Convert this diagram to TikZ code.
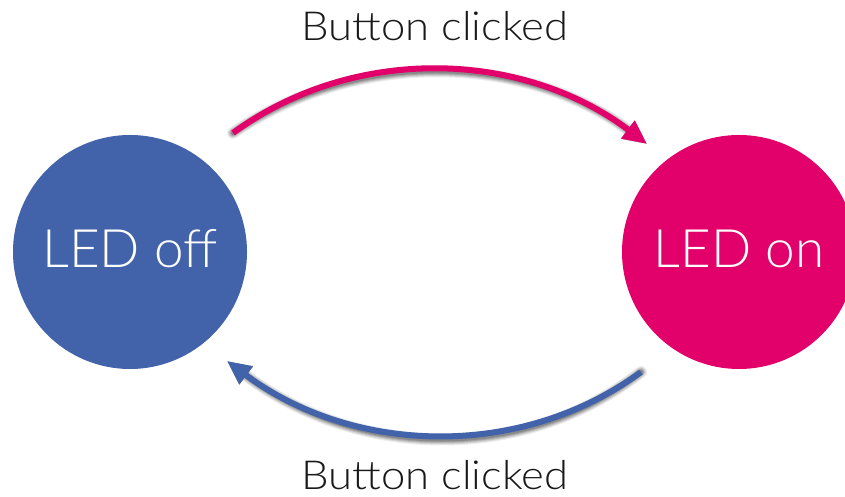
\documentclass[tikz,border=0pt]{standalone}
\usepackage{fontspec}
\setmainfont{Lato Light}
\newfontfamily\capfont{Lato Light}[FakeStretch=1.09]
\usetikzlibrary{arrows.meta,calc}
\definecolor{offblue}{RGB}{66,98,170}
\definecolor{onpink}{RGB}{226,0,107}
\tikzset{
  x=1pt, y=1pt,
  state/.style={circle, minimum size=234pt, inner sep=0pt, text=white,
    font=\fontsize{53}{53}\selectfont, text height=38pt, text depth=6pt},
  caption/.style={anchor=base, font=\capfont\fontsize{40}{40}\selectfont, text=black!90},
  trans/.style={line width=6pt, -{Triangle[length=24pt,width=21pt]}},
  transshadow/.style={line width=#1, black,
    -{Triangle[length=24pt,width=21pt]}, line cap=round},
}
\begin{document}
\begin{tikzpicture}
\clip (0,0) rectangle (845,497);
\fill[white] (0,0) rectangle (845,497);

% the two states
\node[state, fill=offblue] (off) at (130,245) {LED off};
\node[state, fill=onpink] (on) at (739,245) {LED on};

% free ends of the transitions, just outside the circles
\coordinate (t0) at ($(off)+(103,119)$);
\coordinate (t1) at ($(on)+(-92,108)$);
\coordinate (b0) at ($(on)+(-98,-120)$);
\coordinate (b1) at ($(off)+(97,-109)$);

% soft drop shadows under the transitions
\foreach \w/\o in {12pt/0.07, 10pt/0.09, 8pt/0.11, 6pt/0.14, 4pt/0.16}{
  \draw[transshadow=\w, opacity=\o, shift={(3,-4)}]
    (t0) .. controls (356.6,454.2) and (525.1,445.5) .. (t1);
  \draw[transshadow=\w, opacity=\o, shift={(3,-4)}]
    (b0) .. controls (518,35) and (350,44) .. (b1);
}

% transitions
\draw[trans, onpink] (t0) .. controls (356.6,454.2) and (525.1,445.5) .. (t1);
\draw[trans, offblue] (b0) .. controls (518,35) and (350,44) .. (b1);

% labels
\node[caption] (ltop) at (435,456) {Button clicked};
\node[caption] (lbot) at (435,7) {Button clicked};
\end{tikzpicture}
\end{document}
